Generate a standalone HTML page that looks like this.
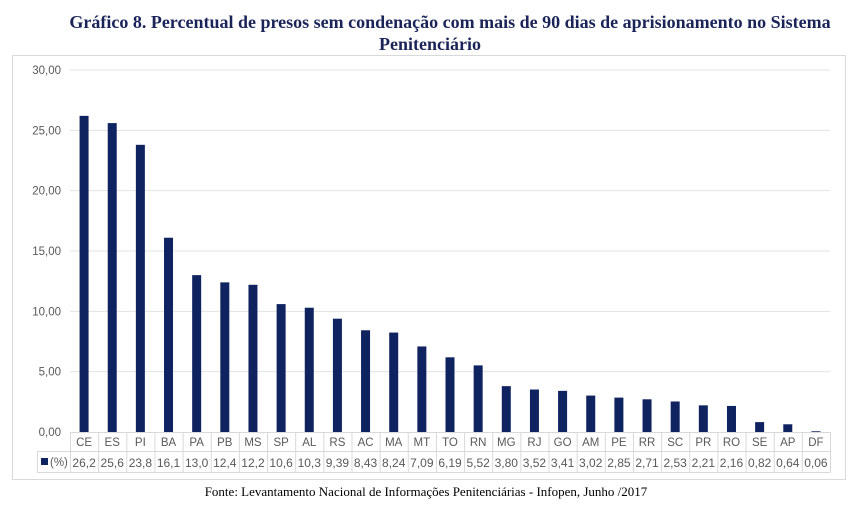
<!DOCTYPE html>
<html><head><meta charset="utf-8"><style>
body{margin:0;width:852px;height:507px;background:#fff;overflow:hidden}
svg text{font-family:"Liberation Sans",sans-serif}
</style></head><body>
<svg width="852" height="507">
<text x="450" y="28" text-anchor="middle" style="font-family:'Liberation Serif',serif" font-weight="bold" font-size="18" fill="#1b2458">Gráfico 8. Percentual de presos sem condenação com mais de 90 dias de aprisionamento no Sistema</text>
<text x="430" y="50" text-anchor="middle" style="font-family:'Liberation Serif',serif" font-weight="bold" font-size="18" fill="#1b2458">Penitenciário</text>
<rect x="12.5" y="55.5" width="833" height="424" fill="#fff" stroke="#d9d9d9"/>
<g id="grid"></g><g id="bars"></g><g id="table"></g>
<text x="426" y="496" text-anchor="middle" style="font-family:'Liberation Serif',serif" font-size="13" fill="#000">Fonte: Levantamento Nacional de Informações Penitenciárias - Infopen, Junho /2017</text>
</svg>
<script>
const categories=["CE","ES","PI","BA","PA","PB","MS","SP","AL","RS","AC","MA","MT","TO","RN","MG","RJ","GO","AM","PE","RR","SC","PR","RO","SE","AP","DF"];
const values=[26.2,25.6,23.8,16.1,13.0,12.4,12.2,10.6,10.3,9.39,8.43,8.24,7.09,6.19,5.52,3.80,3.52,3.41,3.02,2.85,2.71,2.53,2.21,2.16,0.82,0.64,0.06];
const labels=["26,2","25,6","23,8","16,1","13,0","12,4","12,2","10,6","10,3","9,39","8,43","8,24","7,09","6,19","5,52","3,80","3,52","3,41","3,02","2,85","2,71","2,53","2,21","2,16","0,82","0,64","0,06"];
const ticks=[0,5,10,15,20,25,30];
const tickLabels=["0,00","5,00","10,00","15,00","20,00","25,00","30,00"];
const NS="http://www.w3.org/2000/svg";
const L=70,R=830,T=70,B=432,max=30;
const cw=(R-L)/categories.length;
const y=v=>B-(v/max)*(B-T);
const x=i=>L+i*cw;
function mk(tag,attrs,parent,txt){const e=document.createElementNS(NS,tag);for(const k in attrs)e.setAttribute(k,attrs[k]);if(txt!==undefined)e.textContent=txt;parent.appendChild(e);return e;}
const g=document.getElementById('grid'),b=document.getElementById('bars'),t=document.getElementById('table');
ticks.forEach((v,i)=>{
 if(v>0){const l=mk('line',{x1:L,x2:R,y1:y(v),y2:y(v),stroke:'#e3e3e3'},g);
 
 }
 const tx=mk('text',{x:61,y:y(v)+4,'text-anchor':'end','font-size':11.5,fill:'#595959'},g,tickLabels[i]);
 
 
});
values.forEach((v,i)=>{
 const r=mk('rect',{x:x(i)+cw/2-4.5,y:y(v),width:9,height:B-y(v),fill:'#0f2360'},b);
 
 
});
const r1=451.5,r2=472.5;
mk('line',{x1:L,x2:R,y1:B+.5,y2:B+.5,stroke:'#d9d9d9'},t);
mk('line',{x1:37,x2:R,y1:r1,y2:r1,stroke:'#d9d9d9'},t);
mk('line',{x1:37,x2:R,y1:r2,y2:r2,stroke:'#d9d9d9'},t);
mk('line',{x1:37.5,x2:37.5,y1:r1,y2:r2,stroke:'#d9d9d9'},t);
for(let i=0;i<=categories.length;i++)mk('line',{x1:x(i)+.5,x2:x(i)+.5,y1:B,y2:r2,stroke:'#d9d9d9'},t);
const lk=mk('rect',{x:41,y:458,width:7,height:7,fill:'#0f2360'},t);


mk('text',{x:50,y:466,'font-size':11.5,fill:'#595959'},t,'(%)');
categories.forEach((c,i)=>{
 const a=mk('text',{x:x(i)+cw/2,y:446,'text-anchor':'middle','font-size':11.5,fill:'#595959'},t,c);
 
 
 const v=mk('text',{x:x(i)+cw/2,y:467,'text-anchor':'middle','font-size':12,fill:'#595959'},t,labels[i]);
 
 
});
</script>
</body></html>
